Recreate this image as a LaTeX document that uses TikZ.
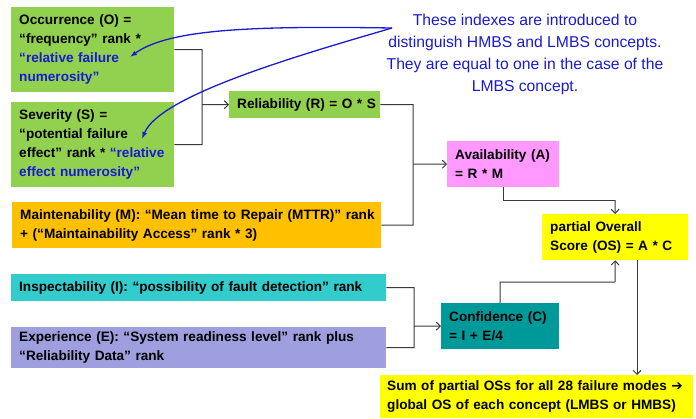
\documentclass[tikz,border=0pt]{standalone}
\usepackage{fontspec}
\setmainfont{Liberation Sans}
\newfontfamily\dejavu{DejaVu Sans}
\usetikzlibrary{arrows.meta}
\definecolor{cgreen}{HTML}{92D050}
\definecolor{corange}{HTML}{FFC000}
\definecolor{ccyan}{HTML}{33CCCC}
\definecolor{clav}{HTML}{9F9FDF}
\definecolor{cteal}{HTML}{009999}
\definecolor{cpink}{HTML}{FF99FF}
\definecolor{cyellow}{HTML}{FFFF00}
\definecolor{noteblue}{HTML}{1A1AD0}
\definecolor{linec}{HTML}{3A3A3A}
\newcommand\lineof[1]{\mbox{#1}}
\begin{document}
\begin{tikzpicture}[x=1pt,y=-1pt,
  box/.style={rectangle, anchor=north west, inner xsep=8pt, inner ysep=0pt,
    align=left, font=\fontsize{13.6}{19}\bfseries\selectfont, text=black},
  conn/.style={draw=linec, line width=1pt},
  arr/.style={conn, -{Straight Barb[length=4pt,width=8pt]}},
  note/.style={draw=noteblue, line width=1.3pt, -{Latex[length=7pt,width=5pt]}},
  notetext/.style={align=center, text=noteblue, font=\fontsize{15.7}{21.9}\selectfont}]
\useasboundingbox (0,0) rectangle (696,418);

% boxes
\node[box, fill=cgreen, text width=147pt, minimum height=85pt] (occ) at (11,7)
  {\lineof{Occurrence (O) =}\\\lineof{“frequency” rank *}\\\lineof{\textcolor{noteblue}{“relative failure}}\\\lineof{\textcolor{noteblue}{numerosity”}}};
\node[box, fill=cgreen, text width=147pt, minimum height=85pt] (sev) at (11,102)
  {\lineof{Severity (S) =}\\\lineof{“potential failure}\\\lineof{effect” rank * \textcolor{noteblue}{“relative}}\\\lineof{\textcolor{noteblue}{effect numerosity”}}};
\node[box, fill=cgreen, text width=135pt, minimum height=27pt] (rel) at (229,91)
  {\lineof{Reliability (R) = O * S}};
\node[box, fill=cpink, text width=96pt, minimum height=46pt] (avail) at (447,141)
  {\lineof{Availability (A)}\\\lineof{= R * M}};
\node[box, fill=corange, text width=353pt, minimum height=46pt] (maint) at (12,202)
  {\lineof{Maintenability (M): “Mean time to Repair (MTTR)” rank}\\\lineof{+ (“Maintainability Access” rank * 3)}};
\node[box, fill=ccyan, text width=359pt, minimum height=27pt] (insp) at (11,274)
  {\lineof{Inspectability (I): “possibility of fault detection” rank}};
\node[box, fill=clav, text width=359pt, minimum height=41pt] (exp) at (11,327)
  {\lineof{Experience (E): “System readiness level” rank plus}\\\lineof{“Reliability Data” rank}};
\node[box, fill=cteal, text width=102pt, minimum height=46pt] (conf) at (441,303)
  {\lineof{Confidence (C)}\\\lineof{= I + E/4}};
\node[box, fill=cyellow, text width=130pt, minimum height=46pt] (os) at (542,214)
  {\lineof{partial Overall}\\\lineof{Score (OS) = A * C}};
\node[box, fill=cyellow, text width=299pt, inner xsep=7pt, minimum height=43pt] (sum) at (380,375)
  {\lineof{Sum of partial OSs for all 28 failure modes {\dejavu\bfseries ➔}}\\\lineof{global OS of each concept (LMBS or HMBS)}};

% note
\node[notetext] (note) at (525,54.5)
  {These indexes are introduced to\\distinguish HMBS and LMBS concepts.\\They are equal to one in the case of the\\LMBS concept.};

% junction coordinates
\coordinate (j1) at (202,49.5);
\coordinate (j2) at (202,144.5);
\coordinate (j3) at (202,104.5);
\coordinate (j4) at (413,104.5);
\coordinate (j5) at (413,225);
\coordinate (j6) at (413,164);
\coordinate (j7) at (414,287.5);
\coordinate (j8) at (414,347.5);
\coordinate (j9) at (414,326);
\coordinate (k1) at (503,200);
\coordinate (k2) at (615,200);
\coordinate (k3) at (500,282);
\coordinate (k4) at (615,282);
\coordinate (ns) at (392,28);
\coordinate (t1) at (130,57);
\coordinate (t2) at (142,139);

% connectors
\draw[conn] (occ.east) -- (j1) -- (j2) -- (sev.east);
\draw[arr] (j3) -- (rel.west);
\draw[conn] (rel.east) -- (j4) -- (j5) -- (maint.east |- j5);
\draw[arr] (j6) -- (avail.west);
\draw[conn] (insp.east) -- (j7) -- (j8) -- (exp.east);
\draw[arr] (j9) -- (conf.west);
\draw[conn] (avail.south -| k1) -- (k1) -- (k2);
\draw[arr] (k2) -- (os.north);
\draw[conn] (conf.north) -- (k3) -- (k4);
\draw[arr] (k4) -- (os.south);
\draw[arr] (os.south -| 637,0) -- (sum.north -| 637,0);

% note arrows
\draw[note] (ns) .. controls (260,26) and (170,28) .. (t1);
\draw[note] (ns) .. controls (300,55) and (160,95) .. (t2);
\end{tikzpicture}
\end{document}
